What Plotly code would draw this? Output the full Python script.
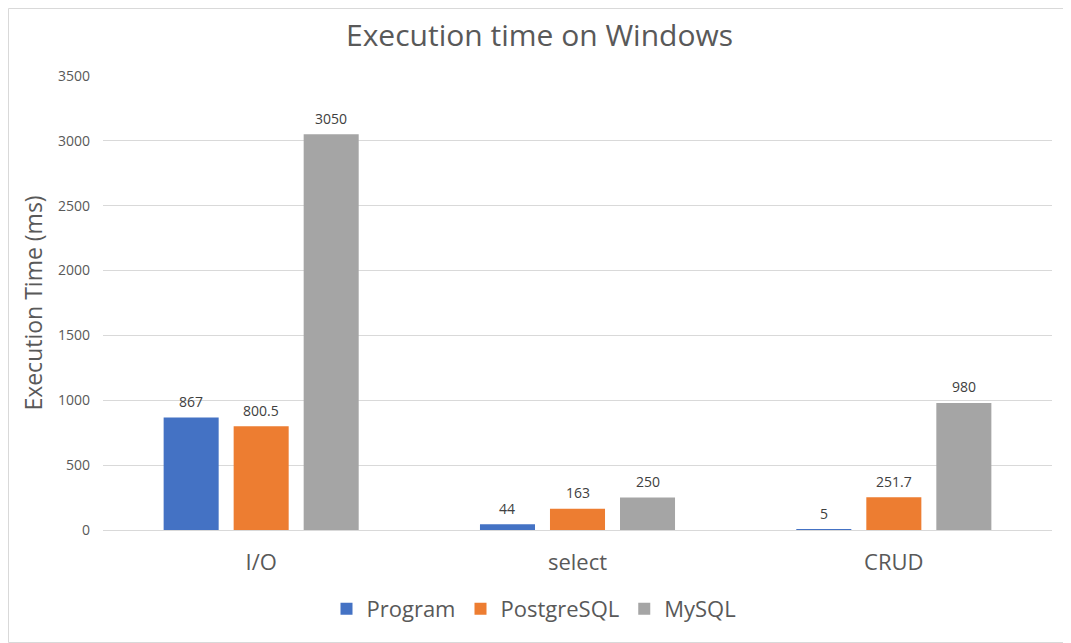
import plotly.graph_objects as go

categories = ["I/O", "select", "CRUD"]
program = [867, 44, 5]
postgresql = [800.5, 163, 251.7]
mysql = [3050, 250, 980]
series_names = ["Program", "PostgreSQL", "MySQL"]
colors = ["#4472C4", "#ED7D31", "#A5A5A5"]
y_ticks = [0, 500, 1000, 1500, 2000, 2500, 3000, 3500]

# page body adds an 8px offset; size figure to fill the rest of the window
W, H = 1063, 635
ml, mr, mt, mb = 95, 19, 68, 113
plot_w = W - ml - mr
bargap = 0.336
slot = plot_w / len(categories) * (1 - bargap) / 3

fig = go.Figure()
annotations = []
for i, (name, vals, col) in enumerate(zip(series_names, [program, postgresql, mysql], colors)):
    fig.add_trace(go.Bar(
        x=categories, y=vals, name=name, marker=dict(color=col, line=dict(width=0)),
    ))
    for c, v in zip(categories, vals):
        annotations.append(dict(x=c, y=v, xref="x", yref="y", text=f"{v:g}", showarrow=False,
                                xshift=(i - 1) * slot, yshift=16, yanchor="middle",
                                font=dict(family="Open Sans", size=14, color="#404040")))

fig.update_layout(
    width=W, height=H,
    margin=dict(l=ml, r=mr, t=mt, b=mb),
    paper_bgcolor="white", plot_bgcolor="white",
    barmode="group", bargap=bargap, bargroupgap=0.214,
    title=dict(text="Execution time on Windows", x=0.5, xanchor="center", y=1 - 27 / H, yanchor="middle",
               font=dict(family="Open Sans", size=30, color="#595959")),
    font=dict(family="Open Sans", color="#595959"),
    showlegend=True,
    legend=dict(orientation="h", x=(526 - ml) / plot_w, xanchor="center",
                y=(522 - 601) / (H - mt - mb), yanchor="middle",
                font=dict(family="Open Sans", size=22, color="#595959"),
                traceorder="normal"),
    xaxis=dict(showgrid=False, showline=True, linecolor="#d9d9d9", linewidth=1, ticks="",
               tickfont=dict(family="Open Sans", size=22, color="#595959"), ticklabelstandoff=13),
    yaxis=dict(range=[0, 3500], tickvals=y_ticks, showgrid=True, gridcolor="#d9d9d9", gridwidth=1,
               zeroline=False, showline=False, ticks="",
               tickfont=dict(family="Open Sans", size=14, color="#595959"), ticklabelstandoff=12,
               title=dict(text="Execution Time (ms)", font=dict(family="Open Sans", size=23, color="#595959"),
                          standoff=8)),
    annotations=annotations,
    shapes=[dict(type="rect", xref="paper", yref="paper",
                 x0=-(ml - 0.5) / plot_w, x1=1 + (mr - 0.5) / plot_w,
                 y0=-(mb - 0.5) / (H - mt - mb), y1=1 + (mt - 0.5) / (H - mt - mb),
                 line=dict(color="#d9d9d9", width=1), layer="below")],
)

fig.write_html("out.html")
